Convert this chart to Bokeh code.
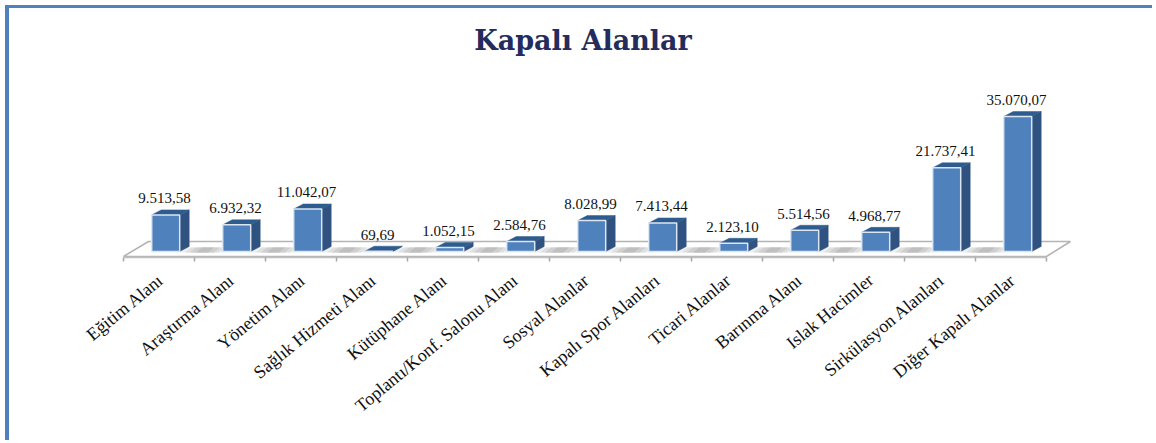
import math
from bokeh.embed import file_html
from bokeh.models import ColumnDataSource, FixedTicker, Range1d, Title
from bokeh.plotting import figure
from bokeh.resources import INLINE
from bokeh.core.properties import value

categories = ["Eğitim Alanı", "Araştırma Alanı", "Yönetim Alanı", "Sağlık Hizmeti Alanı",
              "Kütüphane Alanı", "Toplantı/Konf. Salonu Alanı", "Sosyal Alanlar",
              "Kapalı Spor Alanları", "Ticari Alanlar", "Barınma Alanı", "Islak Hacimler",
              "Sirkülasyon Alanları", "Diğer Kapalı Alanlar"]
values = [9513.58, 6932.32, 11042.07, 69.69, 1052.15, 2584.76, 8028.99, 7413.44,
          2123.10, 5514.56, 4968.77, 21737.41, 35070.07]


def tr(v):
    return f"{v:,.2f}".replace(",", "#").replace(".", ",").replace("#", ".")


# geometry (page px)
ORG_X, ORG_Y = 9, 8
W, H = 1147, 435
FRAME_TOP, FRAME_BOT = 58, 257
LEFT, STEP = 123, 71.0
BASE_Y = 251
PX = 35070.07 / 135.0     # value units per px
xd = 1 / STEP


def X(px):
    return (px - LEFT) / STEP


def Y(py):
    return (BASE_Y - py) * PX


p = figure(width=W, height=H, output_backend="svg", toolbar_location=None,
           x_range=Range1d(X(ORG_X), X(ORG_X + W)), y_range=Range1d(Y(FRAME_BOT), Y(FRAME_TOP)),
           min_border_left=0, min_border_right=0, min_border_top=FRAME_TOP - ORG_Y,
           min_border_bottom=ORG_Y + H - FRAME_BOT, outline_line_color=None,
           background_fill_color="white", border_fill_color="white")
p.margin = (5, 0, 0, 5)
p.styles = {"border-left": "4px solid #4f81bd", "border-top": "3px solid #4f81bd"}
p.grid.visible = False
p.yaxis.visible = False

p.title = Title(text="Kapalı Alanlar", align="center", text_font="DejaVu Serif",
                text_font_size="27px", text_font_style="bold", text_color="#232c5c",
                standoff=6, offset=0)

# floor
n = len(categories)
p.patch([0, X(148), X(1070), n], [Y(256), Y(241), Y(241), Y(256)],
        fill_color="white", line_color="#b4b4b4", line_width=1.5)

centers = [i + 0.5 for i in range(n)]
# soft floor shadows between bars
for a, col in [(44, "#efefef"), (34, "#dfdfdf"), (24, "#cfcfcf"), (12, "#bfbfbf")]:
    for c in centers[:-1]:
        mid = c + X(LEFT + 46)
        off = a / 2 * xd
        skew = 3 * xd
        p.patch([mid - off + skew, mid + off + skew, mid + off - skew, mid - off - skew],
                [Y(247), Y(247), Y(252), Y(252)], fill_color=col, line_color=None)

left = [c + X(LEFT - 7.3) for c in centers]
right = [c + X(LEFT + 20.7) for c in centers]
dx, dy = 9.5 * xd, 5 * PX

p.patches([[r, r + dx, r + dx, r] for r in right],
          [[0, dy, v + dy, v] for v in values], fill_color="#2f5280", line_color="#2f5280", line_width=0.5)
p.patches([[l, r, r + dx, l + dx] for l, r in zip(left, right)],
          [[v, v, v + dy, v + dy] for v in values], fill_color="#2f5c8f", line_color="#2f5c8f", line_width=0.5)
p.quad(left=left, right=right, bottom=0, top=values, fill_color="#4f81bd",
       line_color="#dce6f1", line_width=1.5)

src = ColumnDataSource(dict(x=[c + X(LEFT + 5.5) for c in centers],
                            y=[v + 16.5 * PX for v in values],
                            t=[tr(v) for v in values]))
p.text("x", "y", text="t", source=src, text_font=value("Liberation Serif"), text_font_size="15px",
       text_align="center", text_baseline="middle", text_color="#111111",
       background_fill_color="white")

ax = p.xaxis[0]
label_ticks = [c + 2 * xd for c in centers]
ax.ticker = FixedTicker(ticks=label_ticks, minor_ticks=list(range(n + 1)))
ax.bounds = (0, n)
ax.major_label_overrides = {c: t for c, t in zip(label_ticks, categories)}
ax.major_label_orientation = math.radians(39.5)
ax.major_label_text_font = "Liberation Serif"
ax.major_label_text_font_size = "18px"
ax.major_label_text_color = "#111111"
ax.major_label_standoff = 16
ax.major_tick_in = 0
ax.major_tick_out = 0
ax.minor_tick_in = 0
ax.minor_tick_out = 4
ax.minor_tick_line_color = "#a6a6a6"
ax.minor_tick_line_width = 1.5
ax.axis_line_color = "#c0c0c0"
ax.axis_line_width = 1.5

open("out.html", "w").write(file_html(p, INLINE))
